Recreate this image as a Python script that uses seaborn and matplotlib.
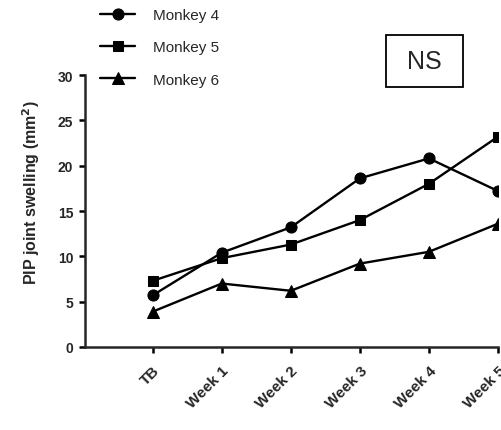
import matplotlib
matplotlib.use("Agg")
import matplotlib.pyplot as plt
from matplotlib.patches import Rectangle
import pandas as pd
import seaborn as sns

# Time points and PIP joint swelling per animal (mm^2)
timepoints = ["TB", "Week 1", "Week 2", "Week 3", "Week 4", "Week 5"]
monkey4 = [5.7, 10.4, 13.2, 18.6, 20.8, 17.2]
monkey5 = [7.3, 9.8, 11.3, 14.0, 18.0, 23.2]
monkey6 = [3.9, 7.0, 6.2, 9.2, 10.5, 13.6]
series_names = ["Monkey 4", "Monkey 5", "Monkey 6"]
y_ticks = [0, 5, 10, 15, 20, 25, 30]

df = pd.DataFrame({
    "time": timepoints * 3,
    "pos": list(range(len(timepoints))) * 3,
    "swelling": monkey4 + monkey5 + monkey6,
    "animal": [n for n in series_names for _ in timepoints],
})

sns.set_style("ticks")
plt.rcParams["font.family"] = ["Liberation Sans", "DejaVu Sans"]

W, H = 501, 431
fig = plt.figure(figsize=(W / 100, H / 100), dpi=100)
ax = fig.add_axes([85 / W, 1 - 348 / H, (498 - 85) / W, (348 - 76) / H])

markers = {"Monkey 4": "o", "Monkey 5": "s", "Monkey 6": "^"}
sizes = {"Monkey 4": 8, "Monkey 5": 7.5, "Monkey 6": 9}
for name in series_names:
    sub = df[df["animal"] == name]
    sns.lineplot(data=sub, x="pos", y="swelling", ax=ax, color="black",
                 marker=markers[name], markersize=sizes[name],
                 markeredgecolor="black", linewidth=1.7, label=name,
                 legend=False)

ax.set_xlim(-0.98, 5)
ax.set_ylim(0, 30)
ax.set_yticks(y_ticks)
ax.set_yticklabels([str(t) for t in y_ticks], fontsize=10, fontweight="bold")
ax.set_xticks(range(len(timepoints)))
ax.set_xticklabels(timepoints, rotation=45, ha="right",
                   rotation_mode="anchor", fontsize=11, fontweight="bold")
ax.set_xlabel("")
ax.set_ylabel("PIP joint swelling (mm$^\\mathbf{2}$)", fontsize=11.5,
              fontweight="bold")
ax.yaxis.set_label_coords(-0.105, 0.57)

for side in ["top", "right"]:
    ax.spines[side].set_visible(False)
for side in ["left", "bottom"]:
    ax.spines[side].set_linewidth(1.8)
ax.tick_params(axis="both", width=1.8, length=4.5, color="black", pad=4)
ax.tick_params(axis="x", pad=7)

handles, labels = ax.get_legend_handles_labels()
fig.legend(handles, labels, loc="upper left",
           bbox_to_anchor=(100 / W, 1 - 9 / H), frameon=False,
           fontsize=11, handlelength=2.3, handletextpad=1.2,
           labelspacing=1.2, borderpad=0, borderaxespad=0)

# "NS" annotation box
fig.patches.append(Rectangle((386 / W, 1 - 88 / H), 77 / W, 52 / H,
                             transform=fig.transFigure, fill=False,
                             edgecolor="black", linewidth=1.3))
fig.text(424.5 / W, 1 - 62 / H, "NS", ha="center", va="center", fontsize=18)

fig.savefig("out.png", dpi=100)
